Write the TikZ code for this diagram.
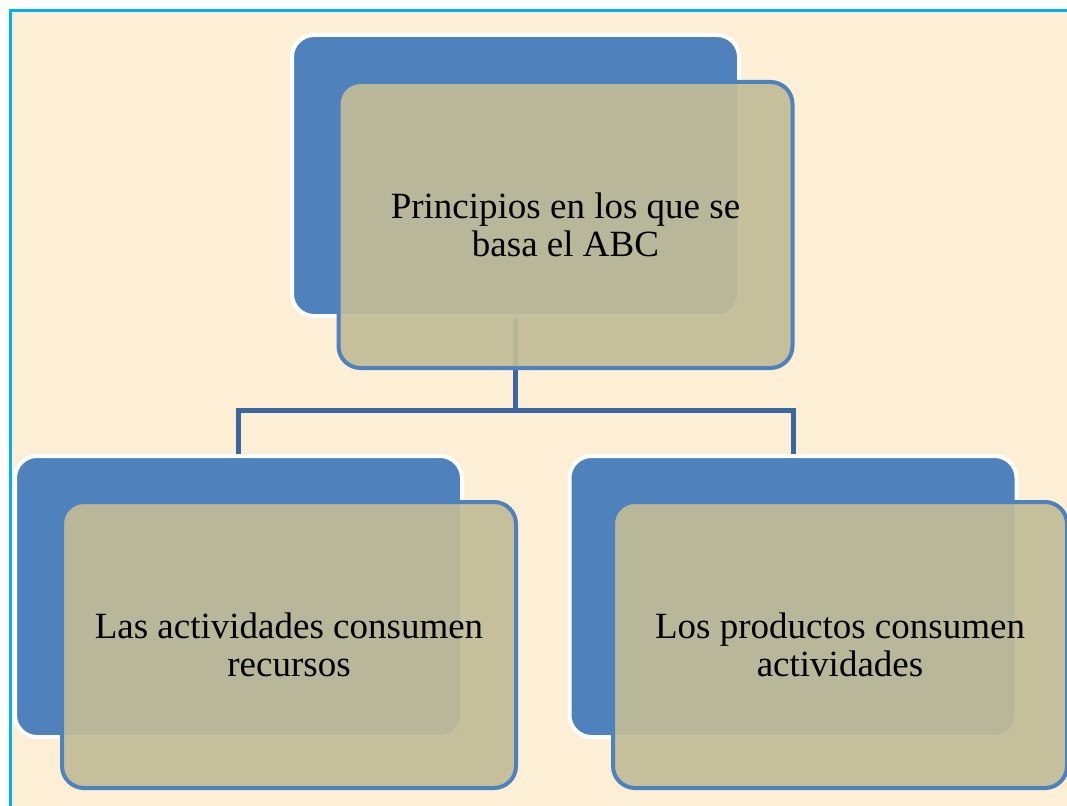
\documentclass[tikz,border=0pt]{standalone}
\usepackage{fontspec}
\setmainfont{Liberation Serif}
\usepackage{xcolor}

\definecolor{paper}{RGB}{252,239,214}
\definecolor{frameblue}{RGB}{0,176,240}
\definecolor{boxblue}{RGB}{79,129,189}
\definecolor{lineblue}{RGB}{60,102,160}
\definecolor{tan}{RGB}{193,188,151}

\tikzset{
	backbox/.style={draw=white, line width=4pt, fill=boxblue,
		rounded corners=22pt, minimum width=447pt, minimum height=281pt},
	frontbox/.style={draw=boxblue, line width=4pt, fill=tan, fill opacity=.92,
		text opacity=1, rounded corners=22pt, minimum width=454pt,
		minimum height=286pt, align=center,
		font=\fontsize{37}{38.3}\selectfont},
	conn/.style={draw=lineblue, line width=5pt}
}

\begin{document}
\begin{tikzpicture}[x=1pt, y=-1pt]
		\clip (0,0) rectangle (1067,805);
		\useasboundingbox (0,0) rectangle (1067,805);
		\fill[white] (0,0) rectangle (1067,805);
		\fill[paper] (10.5,10.5) rectangle (1080,820);
		\draw[frameblue, line width=3.5pt] (10.5,820) -- (10.5,10.5) -- (1080,10.5);
		
		\node[backbox] (pb) at (515.5,175.5) {};
		\node[backbox] (lb) at (238.5,596.5) {};
		\node[backbox] (rb) at (793,596.5) {};
		
		%========================================================================
		% Lines
		\coordinate (j) at (515.5,410.5);
		\draw[conn] (pb.south) -- (j);
		\draw[conn] (lb.north) |- (j) -| (rb.north);
		
		%========================================================================
		% Text boxes
		\node[frontbox] (p) at (565.5,225) {Principios en los que se\\basa el ABC};
		\node[frontbox] (l) at (289,645) {Las actividades consumen\\recursos};
		\node[frontbox] (r) at (840,645) {Los productos consumen\\actividades};
	\end{tikzpicture}
\end{document}
